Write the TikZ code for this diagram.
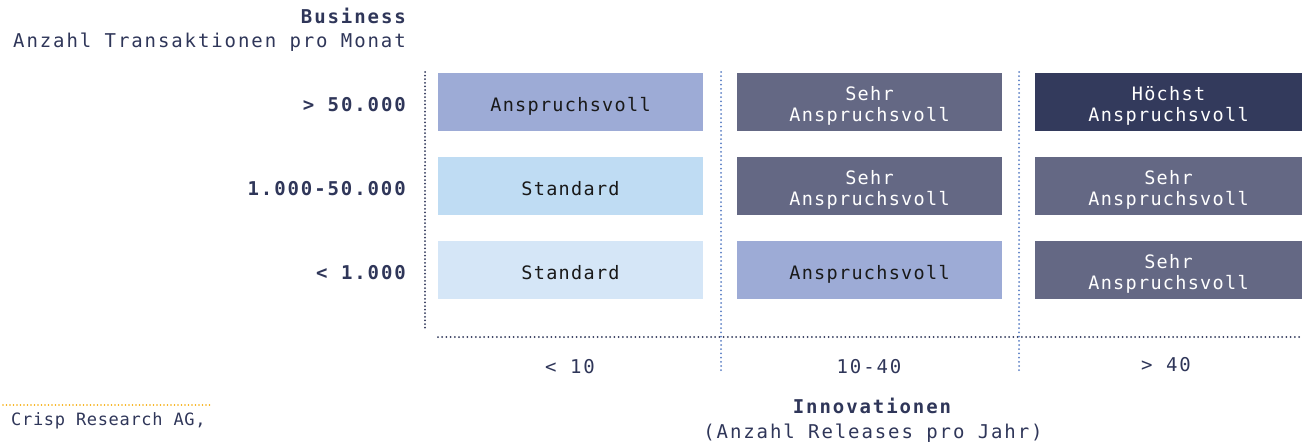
\documentclass[tikz,border=0pt]{standalone}
\usepackage{fontspec}
\newfontfamily\lblfont[LetterSpace=10]{DejaVu Sans Mono}
\newfontfamily\cellfont[LetterSpace=7]{DejaVu Sans Mono}
\newfontfamily\footfont[LetterSpace=4]{DejaVu Sans Mono}
\definecolor{navy}{HTML}{2F3659}
\definecolor{sepblue}{HTML}{5B7FC4}
\definecolor{cLav}{HTML}{9DABD6}
\definecolor{cStd}{HTML}{BFDCF3}
\definecolor{cStdL}{HTML}{D5E6F7}
\definecolor{cSehr}{HTML}{646884}
\definecolor{cHigh}{HTML}{333A5C}
\definecolor{accent}{HTML}{F5A800}
\tikzset{
  cellbox/.style={minimum width=265pt, minimum height=58pt, inner sep=0pt, outer sep=0pt},
  celltext/.style={inner sep=0pt, align=center, yshift=-5.5pt,
    execute at begin node=\strut, execute at end node=\strut,
    font=\cellfont\fontsize{18.5}{21}\selectfont},
  darktext/.style={text=black!90},
  lighttext/.style={text=white},
  axislabel/.style={inner sep=0pt, text=navy, font=\lblfont\fontsize{19}{22}\selectfont},
  boldlabel/.style={inner sep=0pt, text=navy, font=\lblfont\bfseries\fontsize{19}{22}\selectfont},
  dotline/.style={line width=2pt, line cap=round, dash pattern=on 0pt off 4.2pt},
}
\begin{document}
\begin{tikzpicture}[x=1pt,y=-1pt]
\useasboundingbox (0,0) rectangle (1309,445);

% vertical axis title
\node[boldlabel, anchor=east] (ytitle) at (406,16) {Business};
\node[axislabel, anchor=east] (ysub) at (406,42) {Anzahl Transaktionen pro Monat};

% row labels
\node[boldlabel, anchor=east] (r1) at (406,105) {> 50.000};
\node[boldlabel, anchor=east] (r2) at (406,189) {1.000-50.000};
\node[boldlabel, anchor=east] (r3) at (406,273) {< 1.000};

% matrix cells
\node[cellbox, fill=cLav, label={[celltext, darktext]center:Anspruchsvoll}] (a1) at (570.5,102) {};
\node[cellbox, fill=cSehr, label={[celltext, lighttext]center:Sehr\\Anspruchsvoll}] (b1) at (869.5,102) {};
\node[cellbox, fill=cHigh, minimum width=267pt, label={[celltext, lighttext]center:Höchst\\Anspruchsvoll}] (c1) at (1168.5,102) {};
\node[cellbox, fill=cStd, label={[celltext, darktext]center:Standard}] (a2) at (570.5,186) {};
\node[cellbox, fill=cSehr, label={[celltext, lighttext]center:Sehr\\Anspruchsvoll}] (b2) at (869.5,186) {};
\node[cellbox, fill=cSehr, minimum width=267pt, label={[celltext, lighttext]center:Sehr\\Anspruchsvoll}] (c2) at (1168.5,186) {};
\node[cellbox, fill=cStdL, label={[celltext, darktext]center:Standard}] (a3) at (570.5,270) {};
\node[cellbox, fill=cLav, label={[celltext, darktext]center:Anspruchsvoll}] (b3) at (869.5,270) {};
\node[cellbox, fill=cSehr, minimum width=267pt, label={[celltext, lighttext]center:Sehr\\Anspruchsvoll}] (c3) at (1168.5,270) {};

% axes
\coordinate (yTop) at (425,72);
\coordinate (yBot) at (425,330);
\coordinate (xL) at (438,337);
\coordinate (xR) at (1302,337);
\draw[dotline, navy, dash pattern=on 0pt off 3.6pt] (yTop) -- (yBot);
\draw[dotline, navy] (xL) -- (xR);

% column separators
\coordinate (s1t) at (721,72);
\coordinate (s1b) at (721,373);
\coordinate (s2t) at (1019,72);
\coordinate (s2b) at (1019,373);
\draw[dotline, sepblue] (s1t) -- (s1b);
\draw[dotline, sepblue] (s2t) -- (s2b);

% column labels
\node[axislabel] (k1) at (570,367) {< 10};
\node[axislabel] (k2) at (869,367) {10-40};
\node[axislabel] (k3) at (1166,365) {> 40};

% horizontal axis title
\node[boldlabel] (xtitle) at (872,406) {Innovationen};
\node[axislabel] (xsub) at (873,433) {(Anzahl Releases pro Jahr)};

% source line
\coordinate (fL) at (3,405);
\coordinate (fR) at (210,405);
\draw[dotline, accent, line width=1.8pt, dash pattern=on 0pt off 3.5pt] (fL) -- (fR);
\node[inner sep=0pt, anchor=west, text=navy, font=\footfont\fontsize{17}{20}\selectfont] (src) at (11,421) {Crisp Research AG,};
\end{tikzpicture}
\end{document}
